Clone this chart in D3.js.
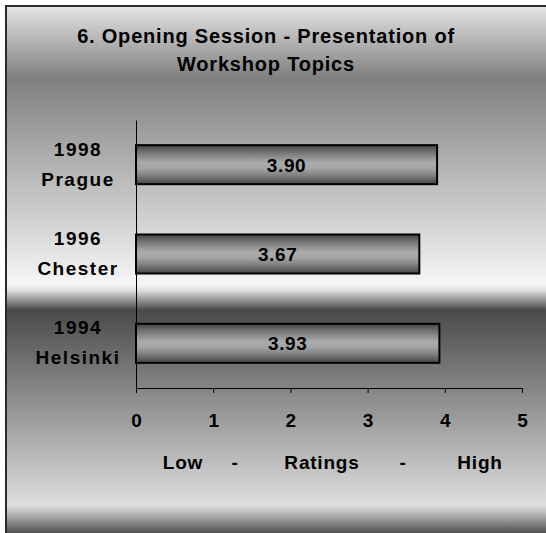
<!DOCTYPE html>
<html><head><meta charset="utf-8">
<script src="https://cdn.jsdelivr.net/npm/d3@7"></script>
<style>html,body{margin:0;padding:0;background:#fff;}svg{display:block;}</style>
</head><body>
<script>
const categories = [["1998","Prague"],["1996","Chester"],["1994","Helsinki"]];
const values = [3.90, 3.67, 3.93];
const valueLabels = ["3.90","3.67","3.93"];
const ticks = [0,1,2,3,4,5];
const titleLines = ["6. Opening Session - Presentation of","Workshop Topics"];
const axisTitle = ["Low","-","Ratings","-","High"];

const W = 546, H = 533;
const FONT = "'Liberation Sans', Arial, sans-serif";
const svg = d3.select("body").append("svg").attr("width", W).attr("height", H)
  .style("font-family", FONT);
const defs = svg.append("defs");

const bg = defs.append("linearGradient").attr("id","bg")
  .attr("gradientUnits","userSpaceOnUse").attr("x1",0).attr("y1",5).attr("x2",0).attr("y2",533);
[[5,"#e6e6e6"],[78,"#808080"],[284,"#f6f6f6"],[290,"#e2e2e2"],[310,"#4a4a4a"],[505,"#dedede"],[512,"#c0c0c0"],[533,"#505050"]]
  .forEach(([y,c]) => bg.append("stop").attr("offset", ((y-5)/528)).attr("stop-color", c));

const bar = defs.append("linearGradient").attr("id","bar").attr("x1",0).attr("y1",0).attr("x2",0).attr("y2",1);
[[0,"#444"],[0.2,"#777"],[0.45,"#ababab"],[0.6,"#a4a4a4"],[0.8,"#7a7a7a"],[1,"#444"]]
  .forEach(([o,c]) => bar.append("stop").attr("offset", o).attr("stop-color", c));

svg.append("rect").attr("x",6).attr("y",6).attr("width",600).attr("height",600)
  .attr("fill","url(#bg)").attr("stroke","#2a2a2a").attr("stroke-width",2);

// title
svg.append("text").attr("x",266).attr("y",43).attr("text-anchor","middle")
  .attr("font-size",20).attr("font-weight","bold").attr("fill","#000").attr("letter-spacing",0.8)
  .selectAll("tspan").data(titleLines).join("tspan")
  .attr("x",266).attr("dy",(d,i)=> i===0?0:28).text(d=>d);

const x = d3.scaleLinear().domain([0,5]).range([136,522]);
const y = d3.scaleBand().domain(d3.range(categories.length)).range([120,388])
  .paddingInner(0.563).paddingOuter(0.2815);

// bars
svg.append("g").selectAll("rect").data(values).join("rect")
  .attr("x", x(0)).attr("y",(d,i)=>y(i))
  .attr("width", d => x(d)-x(0)).attr("height", y.bandwidth())
  .attr("fill","url(#bar)").attr("stroke","#000").attr("stroke-width",2);

svg.append("g").selectAll("text").data(values).join("text")
  .attr("x", d => (x(0)+x(d))/2).attr("y",(d,i)=>y(i)+y.bandwidth()/2+7)
  .attr("text-anchor","middle").attr("font-size",19).attr("font-weight","bold").attr("letter-spacing",0.6)
  .text((d,i)=>valueLabels[i]);

// left axis
const ya = svg.append("g").attr("transform",`translate(${x(0)},0)`)
  .call(d3.axisLeft(y).tickSize(0).tickFormat(""));
ya.select(".domain").attr("stroke","#000").attr("stroke-width",1);

svg.append("g").selectAll("text").data(categories).join("text")
  .attr("text-anchor","middle").attr("font-size",19).attr("font-weight","bold").attr("letter-spacing",1.5)
  .each(function(d,i){
    const c = y(i)+y.bandwidth()/2;
    d3.select(this).selectAll("tspan").data(d).join("tspan")
      .attr("x",78).attr("y",(t,j)=> c - 9 + j*30).text(t=>t);
  });

// bottom axis
const xa = svg.append("g").attr("transform","translate(0,388)")
  .call(d3.axisBottom(x).tickValues(ticks).tickSize(5).tickSizeOuter(0).tickPadding(20.5).tickFormat(d3.format("d")));
xa.select(".domain").attr("stroke","#000");
xa.selectAll(".tick line").attr("stroke","#000");
xa.selectAll(".tick text").attr("font-size",19).attr("font-weight","bold").attr("fill","#000")
  .attr("font-family",FONT);

const atX = [183,235,322,403,480];
svg.append("g").selectAll("text").data(axisTitle).join("text")
  .attr("x",(d,i)=>atX[i]).attr("y",469).attr("text-anchor","middle")
  .attr("font-size",19).attr("font-weight","bold").attr("letter-spacing",0.8).text(d=>d);
</script>
</body></html>
